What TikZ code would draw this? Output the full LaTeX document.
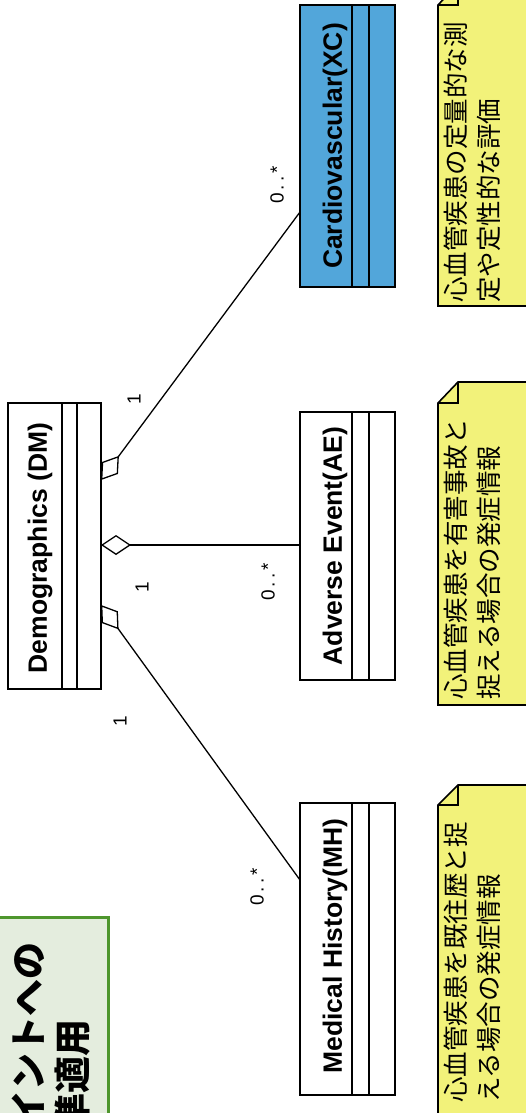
\documentclass[tikz,border=0pt]{standalone}
\usepackage{fontspec}
\setmainfont{Liberation Sans}
\newfontfamily\cjk{Noto Sans CJK JP}
\usetikzlibrary{arrows.meta}
\definecolor{noteyellow}{RGB}{242,242,122}
\definecolor{xcblue}{RGB}{82,166,218}
\definecolor{titlefill}{RGB}{228,237,222}
\definecolor{titleborder}{RGB}{78,150,45}
\begin{document}
\begin{tikzpicture}[x=1pt,y=-1pt,
  umlbox/.style={draw=black, line width=2.6pt, inner sep=0pt, outer sep=0pt, fill=white},
  compline/.style={line width=1.4pt},
  classname/.style={rotate=90, font=\bfseries\fontsize{26.5}{30}\selectfont, inner sep=0pt},
  mult/.style={rotate=90, font=\fontsize{19}{21}\selectfont, inner sep=0pt},
  assoc/.style={line width=1.3pt},
  aggr/.style={assoc, {Diamond[open, length=30pt, width=20pt]}-},
  notebox/.style={draw=black, line width=1.6pt, fill=noteyellow, line join=miter},
  notefold/.style={draw=black, line width=1.6pt},
  notetext/.style={rotate=90, font=\cjk\fontsize{25.5}{33}\selectfont, inner sep=0pt, anchor=west},
  titletext/.style={rotate=90, font=\cjk\bfseries\fontsize{37}{42}\selectfont, inner sep=0pt, anchor=east},
]
\useasboundingbox (0,0) rectangle (526,1113);
\fill[white] (0,0) rectangle (526,1113);
\clip (0,0) rectangle (526,1113);

% title box (cut off at the edge, as in the source)
\node[draw=titleborder, fill=titlefill, line width=3pt, minimum width=130pt, minimum height=220pt, inner sep=0pt, outer sep=0pt] (title) at (43,1027) {};
\node[titletext] (t1) at (28,942) {イントへの};
\node[titletext] (t2) at (72,1019) {準適用};

% class boxes
\node[umlbox, minimum width=93pt, minimum height=286pt] (dm) at (54.5,546) {};
\draw[compline] (62,403) -- (62,689);
\draw[compline] (77,403) -- (77,689);
\node[classname] (dml) at (40,548) {Demographics (DM)};

\node[umlbox, minimum width=95pt, minimum height=268pt] (ae) at (347.5,546) {};
\draw[compline] (352,412) -- (352,680);
\draw[compline] (369,412) -- (369,680);
\node[classname] (ael) at (335,546) {Adverse Event(AE)};

\node[umlbox, minimum width=95pt, minimum height=292pt] (mh) at (347.5,949) {};
\draw[compline] (352,803) -- (352,1095);
\draw[compline] (369,803) -- (369,1095);
\node[classname] (mhl) at (335,946) {Medical History(MH)};

\node[umlbox, fill=xcblue, minimum width=95pt, minimum height=282pt] (xc) at (347.5,146) {};
\draw[compline] (352,5) -- (352,287);
\draw[compline] (369,5) -- (369,287);
\node[classname] (xcl) at (335,146) {Cardiovascular(XC)};

% associations
\draw[aggr] (dm.east |- 0,480) -- (xc.west |- 0,212);
\draw[aggr] (dm.east |- 0,545) -- (ae.west |- 0,545);
\draw[aggr] (dm.east |- 0,605) -- (mh.west |- 0,880);

% multiplicities
\node[mult] (m1) at (134,399) {1};
\node[mult] (m2) at (277,185) {0\kern3pt.\kern3pt.\kern3pt*};
\node[mult] (m3) at (142,587) {1};
\node[mult] (m4) at (268,582) {0\kern3pt.\kern3pt.\kern3pt*};
\node[mult] (m5) at (120,721) {1};
\node[mult] (m6) at (257,887) {0\kern3pt.\kern3pt.\kern3pt*};

% notes
\path[notebox] (438,306) -- (438,5) -- (458,-16) -- (540,-16) -- (540,306) -- cycle;
\draw[notefold] (438,5) -- (458,5) -- (458,-16);
\node[notetext] (n1a) at (456,303) {心血管疾患の定量的な測};
\node[notetext] (n1b) at (489,303) {定や定性的な評価};

\path[notebox] (438,705) -- (438,403) -- (458,382) -- (540,382) -- (540,705) -- cycle;
\draw[notefold] (438,403) -- (458,403) -- (458,382);
\node[notetext] (n2a) at (456,700) {心血管疾患を有害事故と};
\node[notetext] (n2b) at (489,700) {捉える場合の発症情報};

\path[notebox] (438,1130) -- (438,805) -- (458,785) -- (540,785) -- (540,1130) -- cycle;
\draw[notefold] (438,805) -- (458,805) -- (458,785);
\node[notetext] (n3a) at (456,1103) {心血管疾患を既往歴と捉};
\node[notetext] (n3b) at (489,1103) {える場合の発症情報};
\end{tikzpicture}
\end{document}
